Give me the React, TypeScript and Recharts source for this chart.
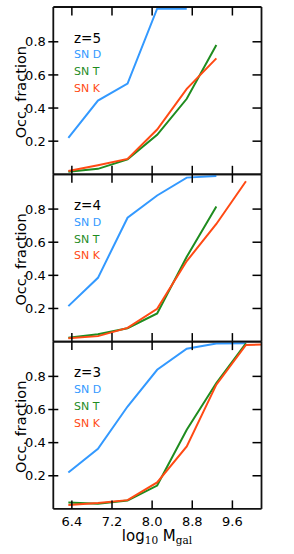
import { LineChart, Line, XAxis, YAxis } from "recharts";

// log10 stellar mass bins (centres)
const massBins = [6.33, 6.92, 7.51, 8.1, 8.69, 9.28, 9.87, 10.46];

const xTicks = [6.4, 7.2, 8.0, 8.8, 9.6];
const yTicks = [0.2, 0.4, 0.6, 0.8];

// occupation fraction per redshift, per SN model
const snD_z5 = [0.22, 0.445, 0.548, 1.0, 1.0];
const snT_z5 = [0.015, 0.033, 0.09, 0.238, 0.456, 0.78];
const snK_z5 = [0.02, 0.055, 0.093, 0.27, 0.516, 0.7];

const snD_z4 = [0.214, 0.385, 0.748, 0.882, 0.99, 1.0];
const snT_z4 = [0.023, 0.045, 0.081, 0.17, 0.512, 0.816];
const snK_z4 = [0.02, 0.033, 0.083, 0.198, 0.486, 0.71, 0.968];

const snD_z3 = [0.22, 0.363, 0.618, 0.84, 0.967, 0.999, 1.0];
const snT_z3 = [0.039, 0.031, 0.05, 0.141, 0.478, 0.76, 1.0];
const snK_z3 = [0.023, 0.035, 0.053, 0.16, 0.377, 0.75, 0.99, 0.995];

const redshifts = ["z=5", "z=4", "z=3"];
const modelNames = ["SN D", "SN T", "SN K"];

const COLORS = ["#3399ff", "#1f8c1f", "#ff4a14"];
const FONT = "DejaVu Sans";

const W = 294;
const H = 554;
const LEFT = 53.3;
const RIGHT = 261.5;
const TOP = 7;
const PANEL_H = 167.3;

const buildRows = (d: number[], t: number[], k: number[]) =>
  massBins.map((x, i) => ({ x, d: d[i], t: t[i], k: k[i] }));

const panels = [
  buildRows(snD_z5, snT_z5, snK_z5),
  buildRows(snD_z4, snT_z4, snK_z4),
  buildRows(snD_z3, snT_z3, snK_z3),
];

function BottomTick({ x, y, payload, showLabel }: any) {
  return (
    <g>
      <line x1={x} x2={x} y1={y} y2={y - 8.5} stroke="#000" strokeWidth={1.5} />
      {showLabel && (
        <text x={x} y={y + 17} textAnchor="middle" fontSize={13} fontFamily={FONT} fill="#000">
          {Number(payload.value).toFixed(1)}
        </text>
      )}
    </g>
  );
}

function TopTick({ x, y }: any) {
  return <line x1={x} x2={x} y1={y} y2={y + 8.5} stroke="#000" strokeWidth={1.5} />;
}

function LeftTick({ x, y, payload }: any) {
  return (
    <g>
      <line x1={x - 5} x2={x + 5} y1={y} y2={y} stroke="#000" strokeWidth={1.5} />
      <text x={x - 7.5} y={y} dy="0.36em" textAnchor="end" fontSize={13} fontFamily={FONT} fill="#000">
        {Number(payload.value).toFixed(1)}
      </text>
    </g>
  );
}

function RightTick({ x, y }: any) {
  return <line x1={x - 9} x2={x} y1={y} y2={y} stroke="#000" strokeWidth={1.5} />;
}

function Panel({ index }: { index: number }) {
  const top = TOP + index * PANEL_H;
  const bottom = top + PANEL_H;
  const last = index === panels.length - 1;
  const axisProps = {
    type: "number" as const,
    domain: [6.03, 10.18],
    allowDataOverflow: true,
    ticks: xTicks,
    interval: 0 as const,
    tickSize: 0,
    tickMargin: 0,
    height: 1,
    axisLine: { stroke: "#111", strokeWidth: 1.8 },
  };
  const yProps = {
    type: "number" as const,
    domain: [0, 1.01],
    allowDataOverflow: true,
    ticks: yTicks,
    interval: 0 as const,
    tickSize: 0,
    tickMargin: 0,
    width: 1,
    axisLine: { stroke: "#111", strokeWidth: 1.8 },
  };
  const lx = 74;
  const mid = (top + bottom) / 2 + 1.5;
  return (
    <div style={{ position: "absolute", left: 0, top: 0 }}>
      <LineChart
        width={W}
        height={H}
        data={panels[index]}
        margin={{ top: top - 1, bottom: H - bottom - 1, left: LEFT - 1, right: W - RIGHT - 1 }}
      >
        <XAxis xAxisId="b" dataKey="x" orientation="bottom" {...axisProps}
          tick={(p: any) => <BottomTick {...p} showLabel={last} />} />
        <XAxis xAxisId="t" dataKey="x" orientation="top" {...axisProps} tick={TopTick} />
        <YAxis yAxisId="l" orientation="left" {...yProps} tick={LeftTick} />
        <YAxis yAxisId="r" orientation="right" {...yProps} tick={RightTick} />
        {["d", "t", "k"].map((key, i) => (
          <Line
            key={key}
            xAxisId="b"
            yAxisId="l"
            dataKey={key}
            stroke={COLORS[i]}
            strokeWidth={2}
            dot={false}
            isAnimationActive={false}
            connectNulls={false}
          />
        ))}
        <text x={20.5} y={mid} transform={`rotate(-90 20.5 ${mid})`}
          textAnchor="middle" dy="0.36em" fontSize={14.5} fontFamily={FONT} fill="#000">
          Occ. fraction
        </text>
        <text x={lx} y={top + 31} dy="0.36em" fontSize={13.5} fontFamily={FONT} fill="#000">
          {redshifts[index]}
        </text>
        {modelNames.map((name, i) => (
          <text key={name} x={lx} y={top + 47.5 + i * 16.8} dy="0.36em" fontSize={11} fontFamily={FONT} fill={COLORS[i]}>
            {name}
          </text>
        ))}
        {last && (
          <text x={157} y={541} textAnchor="middle" fontSize={15} fontFamily={FONT} fill="#000">
            log
            <tspan fontFamily="DejaVu Serif" fontSize={10.5} dy={3}>10</tspan>
            <tspan dy={-3}> M</tspan>
            <tspan fontFamily="DejaVu Serif" fontSize={10.5} dy={3}>gal</tspan>
          </text>
        )}
      </LineChart>
    </div>
  );
}

export default function App() {
  return (
    <div style={{ position: "absolute", left: 0, top: 0, width: W, height: H, background: "#fff" }}>
      {panels.map((_, i) => (
        <Panel key={i} index={i} />
      ))}
    </div>
  );
}
